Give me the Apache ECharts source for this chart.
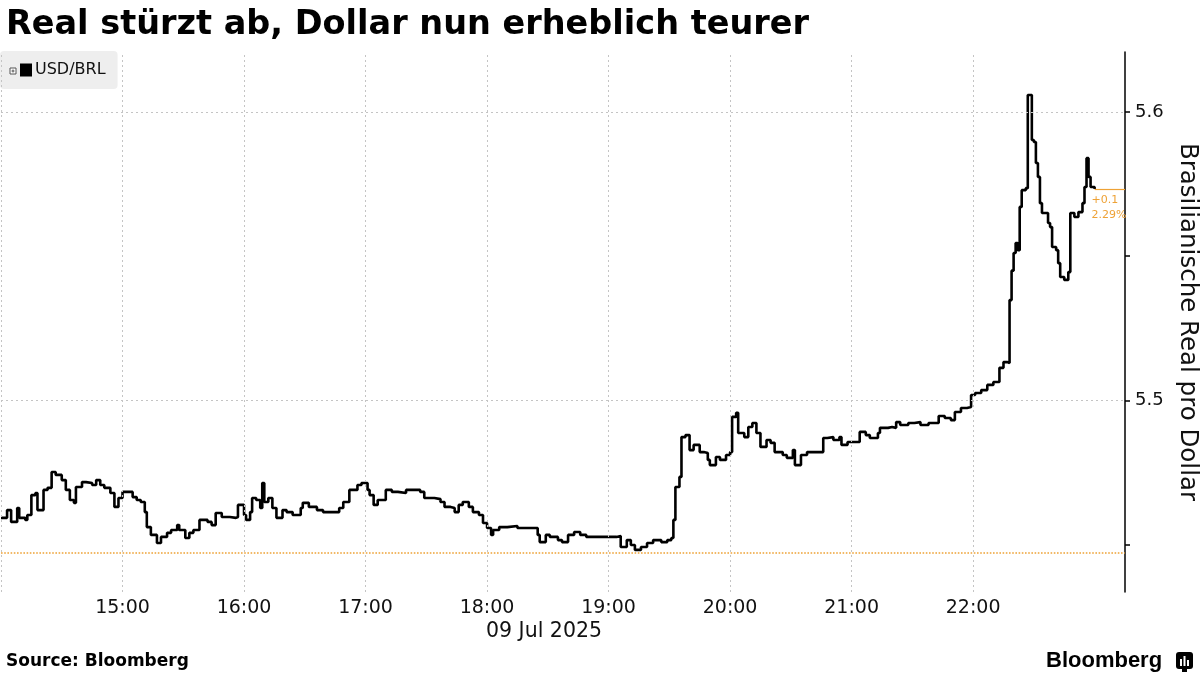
<!DOCTYPE html>
<html>
<head>
<meta charset="utf-8">
<script src="https://cdn.jsdelivr.net/npm/echarts@6/dist/echarts.min.js"></script>
<style>
html,body{margin:0;padding:0;background:#fff;}
#c{width:1200px;height:675px;}
</style>
</head>
<body>
<div id="c"></div>
<script>
const DAY = '2025-07-09';
const titleText = 'Real stürzt ab, Dollar nun erheblich teurer';
const seriesName = 'USD/BRL';
const yAxisName = 'Brasilianische Real pro Dollar';
const dateLabel = '09 Jul 2025';
const sourceText = 'Source: Bloomberg';
const changeLabel = ['+0.1', '2.29%'];
const refLevel = 5.4473;
const yLabelTicks = [5.5, 5.6];
const yMinorTicks = [5.45, 5.5, 5.55, 5.6];
const hourTicks = ['14:00','15:00','16:00','17:00','18:00','19:00','20:00','21:00','22:00'];
const xStart = '14:00';
const xEnd = '23:15';
const yMin = 5.4336;
const yMax = 5.6208;

const times = [
'14:00','14:03','14:05','14:08','14:09','14:12','14:13','14:15','14:17','14:18',
'14:20','14:21','14:23','14:25','14:27','14:30','14:32','14:34','14:36','14:37',
'14:40','14:42','14:45','14:47','14:49','14:51','14:54','14:56','14:58','15:00',
'15:03','15:05','15:07','15:09','15:11','15:12','15:14','15:17','15:19','15:22',
'15:24','15:27','15:28','15:31','15:33','15:35','15:38','15:42','15:44','15:46',
'15:49','15:53','15:56','15:57','16:00','16:01','16:03','16:04','16:06','16:08',
'16:09','16:10','16:12','16:14','16:16','16:19','16:21','16:24','16:28','16:29',
'16:32','16:36','16:39','16:44','16:47','16:49','16:52','16:56','16:58','17:01',
'17:02','17:04','17:06','17:10','17:13','17:16','17:20','17:27','17:29','17:34',
'17:37','17:39','17:42','17:44','17:46','17:48','17:51','17:53','17:56','17:58',
'18:00','18:02','18:03','18:06','18:10','18:15','18:20','18:23','18:25','18:26',
'18:29','18:31','18:35','18:37','18:40','18:43','18:46','18:49','18:53','18:56',
'19:00','19:04','19:06','19:09','19:11','19:13','19:16','19:19','19:22','19:26',
'19:29','19:31','19:32','19:33','19:35','19:36','19:38','19:40','19:42','19:45',
'19:47','19:49','19:50','19:53','19:55','19:58','20:00','20:01','20:03','20:04',
'20:07','20:09','20:11','20:13','20:15','20:18','20:20','20:22','20:26','20:28',
'20:31','20:32','20:35','20:38','20:43','20:46','20:48','20:51','20:54','20:55',
'20:58','21:01','21:04','21:07','21:09','21:13','21:14','21:18','21:20','21:22',
'21:24','21:28','21:31','21:34','21:38','21:42','21:43','21:46','21:49','21:51',
'21:54','21:57','21:59','22:01','22:04','22:07','22:10','22:13','22:15','22:17',
'22:18','22:19','22:20','22:21','22:22','22:23','22:24','22:26','22:27','22:29',
'22:30','22:31','22:32','22:33','22:34','22:36','22:37','22:38','22:39','22:41',
'22:42','22:43','22:45','22:47','22:48','22:50','22:52','22:54','22:55','22:56',
'22:57','22:58','23:00'
];
const usdBrl = [
5.4593,5.4620,5.4579,5.4627,5.4593,5.4586,5.4603,5.4672,5.4679,5.4620,
5.4620,5.4690,5.4697,5.4752,5.4742,5.4724,5.4690,5.4655,5.4645,5.4700,
5.4717,5.4714,5.4707,5.4724,5.4707,5.4697,5.4679,5.4631,5.4662,5.4683,
5.4683,5.4665,5.4655,5.4648,5.4613,5.4561,5.4534,5.4506,5.4527,5.4541,
5.4551,5.4568,5.4551,5.4523,5.4541,5.4551,5.4586,5.4579,5.4568,5.4610,
5.4596,5.4593,5.4596,5.4638,5.4603,5.4586,5.4613,5.4662,5.4655,5.4627,
5.4714,5.4648,5.4662,5.4627,5.4593,5.4620,5.4613,5.4603,5.4627,5.4645,
5.4631,5.4620,5.4613,5.4613,5.4627,5.4648,5.4690,5.4707,5.4714,5.4690,
5.4672,5.4638,5.4655,5.4690,5.4683,5.4679,5.4690,5.4683,5.4662,5.4658,
5.4648,5.4631,5.4627,5.4613,5.4638,5.4648,5.4631,5.4613,5.4603,5.4575,
5.4558,5.4534,5.4551,5.4561,5.4565,5.4558,5.4558,5.4558,5.4534,5.4509,
5.4534,5.4527,5.4516,5.4509,5.4534,5.4544,5.4534,5.4527,5.4527,5.4527,
5.4527,5.4530,5.4492,5.4516,5.4499,5.4482,5.4492,5.4506,5.4516,5.4509,
5.4516,5.4523,5.4586,5.4700,5.4735,5.4873,5.4880,5.4828,5.4846,5.4821,
5.4818,5.4794,5.4776,5.4804,5.4794,5.4811,5.4821,5.4943,5.4957,5.4887,
5.4873,5.4908,5.4922,5.4887,5.4839,5.4863,5.4853,5.4821,5.4811,5.4801,
5.4828,5.4776,5.4811,5.4821,5.4821,5.4870,5.4873,5.4863,5.4873,5.4846,
5.4856,5.4856,5.4891,5.4880,5.4870,5.4887,5.4905,5.4908,5.4905,5.4925,
5.4915,5.4922,5.4925,5.4915,5.4922,5.4922,5.4946,5.4939,5.4932,5.4960,
5.4974,5.4977,5.5019,5.5026,5.5036,5.5054,5.5064,5.5113,5.5133,5.5130,
5.5348,5.5450,5.5511,5.5546,5.5521,5.5671,5.5729,5.5736,5.6059,5.5903,
5.5896,5.5823,5.5775,5.5684,5.5650,5.5650,5.5615,5.5601,5.5532,5.5521,
5.5476,5.5428,5.5418,5.5445,5.5650,5.5636,5.5653,5.5684,5.5740,5.5840,
5.5775,5.5740,5.5733
];

function ts(hm) {
  const [h, m] = hm.split(':').map(Number);
  return new Date(2025, 6, 9, h, m, 0).getTime();
}

const data = times.map((t, i) => [ts(t), usdBrl[i]]);
const lastPoint = data[data.length - 1];

const gridColor = '#c4c4c4';
const orange = '#eea236';

const chart = echarts.init(document.getElementById('c'), null, {renderer: 'canvas'});

const gridLines = hourTicks.map(h => ({xAxis: ts(h)}))
  .concat(yLabelTicks.map(v => ({yAxis: v})));

const annoLineStyle = {color: orange, type: 'solid', width: 1.2};

chart.setOption({
  animation: false,
  backgroundColor: '#ffffff',
  title: {
    text: titleText,
    left: 1,
    top: 3,
    textStyle: {
      fontFamily: 'DejaVu Sans',
      fontWeight: 'bold',
      fontSize: 33.5,
      color: '#000'
    }
  },
  legend: {
    data: [seriesName],
    left: 0,
    top: 51,
    backgroundColor: '#eeeeee',
    borderRadius: 4,
    padding: [11, 12, 11, 20],
    itemWidth: 12,
    itemHeight: 13,
    itemGap: 4,
    icon: 'rect',
    selectedMode: false,
    textStyle: {fontFamily: 'DejaVu Sans', fontSize: 16, color: '#111', padding: [0, 0, 0, -2]}
  },
  grid: {left: 1, right: 75, top: 52, bottom: 83, containLabel: false, outerBoundsMode: 'none'},
  xAxis: {
    type: 'time',
    min: ts(xStart),
    max: ts(xEnd),
    interval: 3600000,
    axisLine: {show: false},
    axisTick: {show: false},
    splitLine: {show: false},
    axisLabel: {
      fontFamily: 'DejaVu Sans',
      fontSize: 19,
      color: '#111',
      margin: 7,
      hideOverlap: false,
      formatter: function (v) {
        const d = new Date(v);
        const h = d.getHours();
        if (d.getMinutes() !== 0 || h < 15 || h > 22) return '';
        return (h < 10 ? '0' : '') + h + ':00';
      }
    }
  },
  yAxis: {
    type: 'value',
    position: 'right',
    min: yMin,
    max: yMax,
    scale: true,
    name: yAxisName,
    nameLocation: 'middle',
    nameRotate: -90,
    nameGap: 31,
    nameTextStyle: {fontFamily: 'DejaVu Sans', fontSize: 24.5, color: '#111'},
    axisLine: {show: true, lineStyle: {color: '#000', width: 1.5}},
    axisTick: {show: true, customValues: yMinorTicks, length: 5, inside: false, lineStyle: {color: '#000', width: 1.5}},
    splitLine: {show: false},
    axisLabel: {
      customValues: yLabelTicks,
      fontFamily: 'DejaVu Sans',
      fontSize: 18,
      color: '#111',
      margin: 10,
      formatter: v => v.toFixed(1)
    }
  },
  series: [
    {
      name: 'grid',
      type: 'line',
      data: [],
      z: 0,
      silent: true,
      markLine: {
        silent: true,
        symbol: 'none',
        precision: 6,
        label: {show: false},
        lineStyle: {color: gridColor, type: [2, 3], width: 1},
        data: gridLines
      }
    },
    {
      name: seriesName,
      type: 'line',
      step: 'end',
      showSymbol: false,
      symbol: 'none',
      data: data,
      z: 3,
      color: '#000',
      lineStyle: {color: '#000', width: 2.6},
      markLine: {
        silent: true,
        symbol: 'none',
        precision: 6,
        z: 4,
        data: [
          {
            yAxis: refLevel,
            lineStyle: {color: orange, type: 'dotted', width: 1.6},
            label: {show: false}
          },
          [
            {coord: lastPoint, lineStyle: annoLineStyle},
            {
              coord: [ts(xEnd), lastPoint[1]],
              lineStyle: annoLineStyle,
              label: {
                show: true,
                position: 'insideStartBottom',
                formatter: changeLabel.join('\n'),
                color: orange,
                fontFamily: 'DejaVu Sans',
                fontSize: 11,
                lineHeight: 15,
                align: 'left',
                distance: [-3, 4]
              }
            }
          ]
        ]
      }
    }
  ],
  graphic: [
    {
      type: 'group',
      left: 9,
      top: 67,
      z: 100,
      children: [
        {type: 'rect', z: 100, shape: {x: 0.5, y: 0.5, width: 6, height: 6}, style: {fill: '#fff', stroke: '#555', lineWidth: 1}},
        {type: 'line', z: 101, shape: {x1: 3.5, y1: 2, x2: 3.5, y2: 5}, style: {stroke: '#555', lineWidth: 1}},
        {type: 'line', z: 101, shape: {x1: 2, y1: 3.5, x2: 5, y2: 3.5}, style: {stroke: '#555', lineWidth: 1}}
      ]
    },
    {
      type: 'text',
      left: 486,
      top: 621,
      style: {text: dateLabel, fontFamily: 'DejaVu Sans', fontSize: 20.5, fill: '#111'}
    },
    {
      type: 'text',
      left: 6,
      top: 653,
      style: {text: sourceText, fontFamily: 'DejaVu Sans', fontWeight: 'bold', fontSize: 17, fill: '#000'}
    },
    {
      type: 'text',
      left: 1046,
      top: 650,
      style: {text: 'Bloomberg', fontFamily: 'Liberation Sans', fontWeight: 'bold', fontSize: 22, fill: '#000'}
    },
    {
      type: 'group',
      left: 1176,
      top: 652,
      children: [
        {type: 'rect', shape: {x: 0, y: 0, width: 17, height: 17, r: 3}, style: {fill: '#000'}},
        {type: 'rect', shape: {x: 6, y: 16, width: 5, height: 4}, style: {fill: '#000'}},
        {type: 'rect', shape: {x: 4, y: 7, width: 2, height: 7}, style: {fill: '#fff'}},
        {type: 'rect', shape: {x: 7.5, y: 4, width: 2, height: 10}, style: {fill: '#fff'}},
        {type: 'rect', shape: {x: 11, y: 8, width: 2, height: 6}, style: {fill: '#fff'}}
      ]
    }
  ]
});
</script>
</body>
</html>
